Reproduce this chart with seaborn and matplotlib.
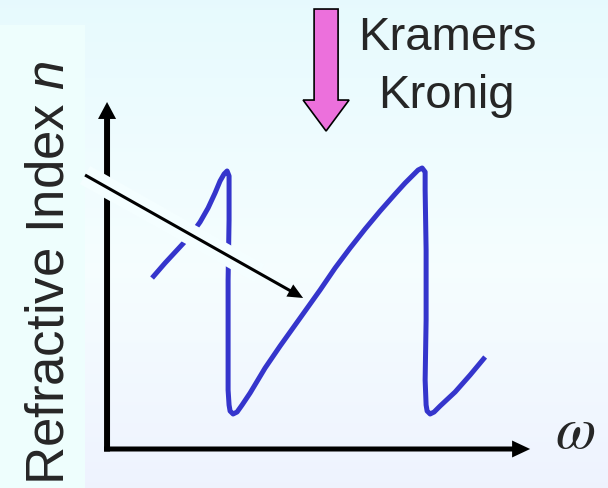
import numpy as np
import matplotlib
matplotlib.use("Agg")
import matplotlib.pyplot as plt
from matplotlib.patches import FancyArrow, Rectangle
import seaborn as sns
import pandas as pd

# Dispersion curve n(omega): two resonances, each a rising branch
# followed by a sharp anomalous drop.
omega = [1.064, 1.371, 1.678, 1.962, 2.199, 2.388, 2.553, 2.671, 2.766, 2.837,
         2.884, 2.884, 2.861, 2.861, 2.861, 2.884, 2.908, 2.979, 3.073, 3.191,
         3.381, 3.735, 4.090, 4.563, 5.035, 5.390, 5.745, 6.099, 6.454, 6.809,
         7.045, 7.234, 7.352, 7.447, 7.518, 7.518, 7.541, 7.541, 7.518, 7.541,
         7.565, 7.636, 7.730, 7.872, 8.227, 8.582, 8.936]
n_index = [4.928, 5.360, 5.764, 6.138, 6.542, 6.945, 7.378, 7.723, 7.925, 8.012,
           7.867, 6.599, 4.870, 3.141, 1.700, 1.268, 1.095, 1.009, 1.066, 1.268,
           1.614, 2.334, 2.968, 3.775, 4.582, 5.216, 5.793, 6.340, 6.859, 7.349,
           7.666, 7.896, 8.040, 8.098, 7.983, 7.464, 5.735, 3.718, 1.988, 1.268,
           1.095, 1.009, 1.066, 1.239, 1.643, 2.133, 2.651]

y_label = "Refractive Index $n$"
x_label = "\u03c9"
kk_lines = ["Kramers", "Kronig"]

curve = pd.DataFrame({"omega": omega, "n": n_index})

sns.set_theme(style="white")
plt.rcParams["font.family"] = ["Liberation Sans", "DejaVu Sans"]
plt.rcParams["mathtext.fontset"] = "custom"
plt.rcParams["mathtext.rm"] = "Liberation Sans"
plt.rcParams["mathtext.it"] = "Liberation Sans:italic"

fig = plt.figure(figsize=(6.08, 4.88), dpi=100)
ax = fig.add_axes([0, 0, 1, 1])
xlim = (-2.53, 11.84)
ylim = (-1.124, 12.94)

# vertical background gradient: pale cyan at the top, near white, faint lavender at the foot
t = np.linspace(0, 1, 256)[:, None]
stops_t = [0.0, 0.55, 1.0]
stops_c = np.array([[0.905, 0.980, 0.995],
                    [0.962, 0.995, 1.000],
                    [0.935, 0.952, 0.996]])
grad = np.stack([np.interp(t[:, 0], stops_t, stops_c[:, k]) for k in range(3)], axis=1)
img = np.repeat(grad[:, None, :], 4, axis=1)
ax.imshow(img, extent=(*xlim, *ylim), origin="upper", aspect="auto", zorder=0)

# panel behind the axis title
ax.add_patch(Rectangle((xlim[0], ylim[0]), -0.52 - xlim[0], 12.22 - ylim[0],
                       facecolor="#eefefd", edgecolor="none", zorder=0.5))

# axes drawn as arrows
ax.annotate("", xy=(0, 10.0), xytext=(0, -0.072),
            arrowprops=dict(arrowstyle="simple,head_length=1.22,head_width=1.3,tail_width=0.43",
                            mutation_scale=10, fc="black", ec="none",
                            shrinkA=0, shrinkB=0), zorder=3)
ax.annotate("", xy=(10.0, 0), xytext=(-0.071, 0),
            arrowprops=dict(arrowstyle="simple,head_length=1.3,head_width=1.22,tail_width=0.36",
                            mutation_scale=10, fc="black", ec="none",
                            shrinkA=0, shrinkB=0), zorder=3)

sns.lineplot(data=curve, x="omega", y="n", sort=False, estimator=None,
             color="#3535cc", linewidth=3.6, ax=ax, zorder=4,
             solid_joinstyle="round", solid_capstyle="butt")

# pointer to the dispersion curve, with a light band under its shaft
tail = np.array([-0.52, 7.896])
tip = np.array([4.634, 4.352])
band_end = tail + 0.8 * (tip - tail)
ax.plot([tail[0], band_end[0]], [tail[1], band_end[1]], color="#f4feff",
        linewidth=15, solid_capstyle="butt", zorder=4.5)
ax.annotate("", xy=tuple(tip), xytext=tuple(tail),
            arrowprops=dict(arrowstyle="simple,head_length=1.1,head_width=1.0,tail_width=0.22",
                            mutation_scale=10, fc="black", ec="none",
                            shrinkA=0, shrinkB=0),
            zorder=5)

# Kramers-Kronig arrow
ax.add_patch(FancyArrow(5.177, 12.68, 0, -3.516, width=0.567, head_width=1.087,
                        head_length=0.893, length_includes_head=True,
                        facecolor="#ec70dc", edgecolor="black", linewidth=1.2, zorder=6))

ax.text(8.038, 11.50, kk_lines[0], ha="center", va="baseline", fontsize=34, zorder=6)
ax.text(8.014, 9.827, kk_lines[1], ha="center", va="baseline", fontsize=34, zorder=6)

ax.text(-1.040, -1.037, y_label, rotation=90, rotation_mode="anchor",
        ha="left", va="baseline", fontsize=38, zorder=6)
ax.text(10.59, 0.03, x_label, ha="left", va="baseline", fontsize=42,
        family=["STIXGeneral", "DejaVu Serif"], style="italic", zorder=6)

ax.set_xlim(*xlim)
ax.set_ylim(*ylim)
ax.axis("off")

fig.savefig("out.png", dpi=100)
